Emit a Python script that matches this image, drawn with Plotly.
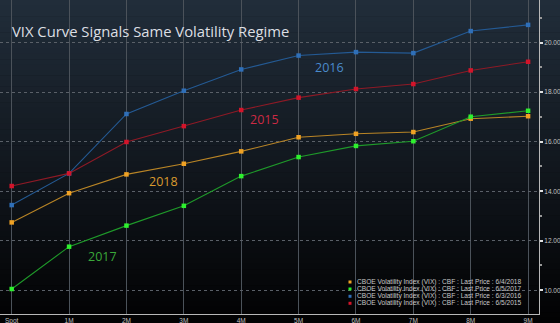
import plotly.graph_objects as go

tenors = ["Spot", "1M", "2M", "3M", "4M", "5M", "6M", "7M", "8M", "9M"]
vix_2018 = [12.74, 13.92, 14.68, 15.11, 15.61, 16.18, 16.32, 16.39, 16.93, 17.03]
vix_2017 = [10.05, 11.76, 12.61, 13.41, 14.61, 15.38, 15.83, 16.02, 17.01, 17.25]
vix_2016 = [13.44, 14.72, 17.12, 18.06, 18.92, 19.48, 19.62, 19.58, 20.47, 20.72]
vix_2015 = [14.21, 14.72, 15.99, 16.63, 17.28, 17.78, 18.13, 18.33, 18.88, 19.23]
legend_names = [
    "CBOE Volatility Index (VIX) : CBF : Last Price : 6/4/2018",
    "CBOE Volatility Index (VIX) : CBF : Last Price : 6/5/2017",
    "CBOE Volatility Index (VIX) : CBF : Last Price : 6/3/2016",
    "CBOE Volatility Index (VIX) : CBF : Last Price : 6/5/2015",
]
year_labels = ["2018", "2017", "2016", "2015"]

W, H = 560, 323
ML, MR, MT, MB = 0, 21, 0, 9
PW, PH = W - ML - MR, H - MT - MB

series = [
    (vix_2018, "#b98526", "#f0a224", "#d99a2e"),
    (vix_2017, "#1f9a2a", "#2ef02e", "#3aa83a"),
    (vix_2016, "#245a94", "#2f6fb8", "#4a8bcc"),
    (vix_2015, "#8e1a26", "#d3142a", "#cc2a44"),
]
xs = list(range(len(tenors)))

fig = go.Figure()
for (vals, lc, mc, _), name in zip(series, legend_names):
    fig.add_trace(go.Scatter(
        x=xs, y=vals, mode="lines+markers", name=name,
        line=dict(color=lc, width=1.1),
        marker=dict(color=mc, size=4.5, symbol="square"),
        showlegend=False,
    ))

def px_x(p):
    return (p - ML) / PW

def px_y(p):
    return 1 - (p - MT) / PH

shapes = []
# background gradient
N = 60
top = (0x21, 0x2d, 0x3a)
bot = (0x02, 0x02, 0x03)
for i in range(N):
    t = i / (N - 1)
    c = tuple(int(round(top[k] + (bot[k] - top[k]) * t)) for k in range(3))
    y0 = H * i / N
    y1 = H * (i + 1) / N + 0.5
    shapes.append(dict(type="rect", xref="paper", yref="paper", layer="below",
                       x0=px_x(-2), x1=px_x(W + 2), y0=px_y(y1), y1=px_y(y0),
                       line=dict(width=0), fillcolor="rgb(%d,%d,%d)" % c))

annotations = []
# title
annotations.append(dict(text="VIX Curve Signals Same Volatility Regime", xref="paper", yref="paper",
                        x=px_x(10), y=px_y(31), xanchor="left", yanchor="middle", showarrow=False,
                        font=dict(family="Open Sans", size=14.8, color="#dcdfe3")))
# year labels
label_pos = [(2.65, 14.41), (1.59, 11.38), (5.545, 18.98), (4.41, 16.90)]
for (vals, lc, mc, tc), lab, (lx, ly) in zip(series, year_labels, label_pos):
    annotations.append(dict(text=lab, x=lx, y=ly, xref="x", yref="y", showarrow=False,
                            font=dict(family="Open Sans", size=12.5, color=tc)))
# legend
leg_y = [282, 289, 296.3, 303.3]
for (vals, lc, mc, tc), name, ly in zip(series, legend_names, leg_y):
    shapes.append(dict(type="rect", xref="paper", yref="paper",
                       x0=px_x(348.5), x1=px_x(351.5), y0=px_y(ly + 1.5), y1=px_y(ly - 1.5),
                       line=dict(width=0), fillcolor=mc))
    annotations.append(dict(text=name, xref="paper", yref="paper", x=px_x(354.5), y=px_y(ly),
                            xanchor="left", yanchor="middle", showarrow=False,
                            font=dict(family="Liberation Sans", size=6.6, color="#c8c8c8")))

fig.update_layout(
    width=W, height=H,
    margin=dict(l=ML, r=MR, t=MT, b=MB, pad=0),
    paper_bgcolor="#000000", plot_bgcolor="rgba(0,0,0,0)",
    shapes=shapes, annotations=annotations,
    showlegend=False,
    xaxis=dict(
        tickmode="array", tickvals=xs, ticktext=tenors,
        range=[-0.204, 9.19], showgrid=True, gridcolor="#4b525a", gridwidth=1,
        zeroline=False, showline=True, linecolor="#b8b8b8", linewidth=1,
        ticks="", tickfont=dict(family="Liberation Sans", size=6.5, color="#c0c0c0"),
        automargin=False, fixedrange=True,
    ),
    yaxis=dict(
        side="right", range=[9.04, 21.725], dtick=2, tick0=10, tickformat=".2f",
        showgrid=True, gridcolor="#5a6068", griddash="dot", gridwidth=1,
        zeroline=False, showline=True, linecolor="#b8b8b8", linewidth=1,
        ticks="outside", ticklen=3, tickcolor="#e0e0e0", tickwidth=1.5,
        minor=dict(dtick=1, tick0=9, ticks="outside", ticklen=2, tickcolor="#999999", showgrid=False),
        tickfont=dict(family="Liberation Sans", size=6.5, color="#c0c0c0"),
        automargin=False, fixedrange=True,
    ),
)

fig.write_html("out.html")
